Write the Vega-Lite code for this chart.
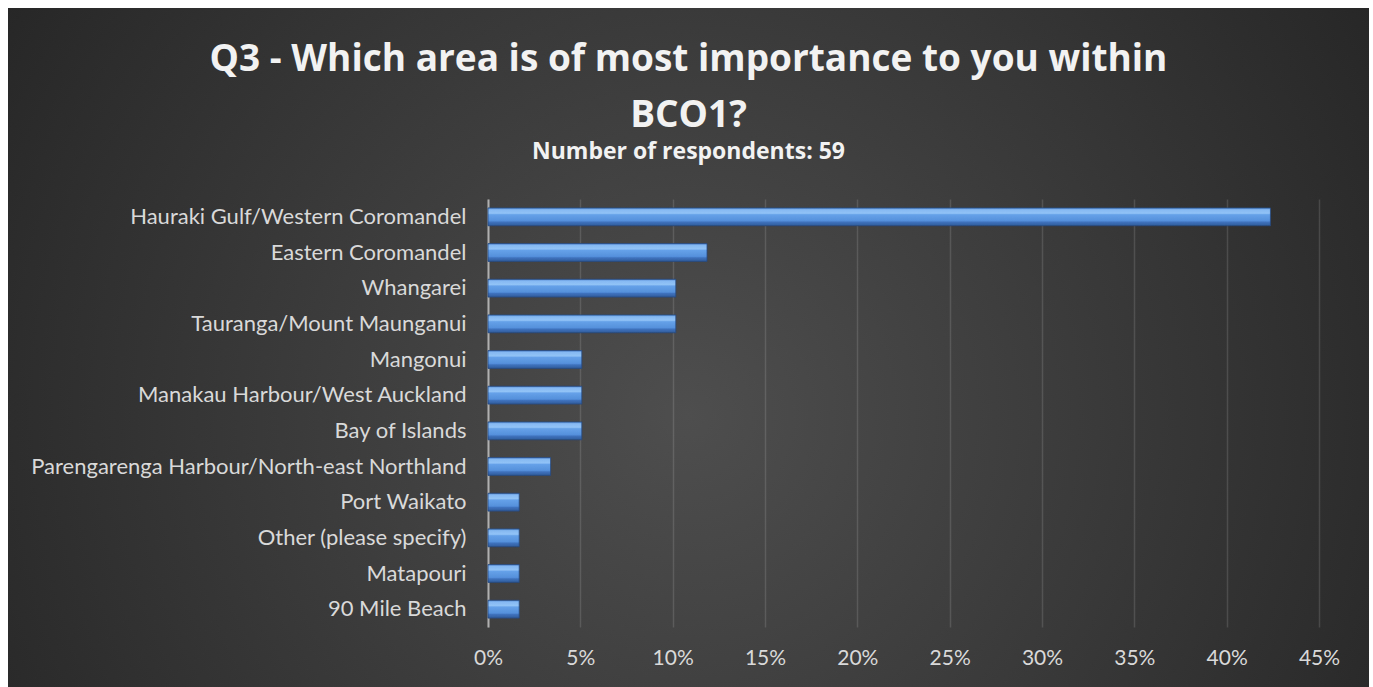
{
  "$schema": "https://vega.github.io/schema/vega-lite/v6.json",
  "width": 1361,
  "height": 679,
  "autosize": {"type": "none"},
  "padding": {"left": 8, "top": 8, "right": 4, "bottom": 0},
  "background": "#ffffff",
  "title": {
    "text": ["Q3 - Which area is of most importance to you within", "BCO1?"],
    "subtitle": "Number of respondents: 59",
    "anchor": "middle",
    "orient": "top",
    "offset": -157,
    "font": "Open Sans",
    "fontSize": 37,
    "fontWeight": "bold",
    "color": "#f2f2f2",
    "lineHeight": 56,
    "subtitleFont": "Open Sans",
    "subtitleFontSize": 23,
    "subtitleFontWeight": "bold",
    "subtitleColor": "#f2f2f2",
    "subtitlePadding": 6
  },
  "data": {
    "values": [
      {"area": "Hauraki Gulf/Western Coromandel", "pct": 0.4237},
      {"area": "Eastern Coromandel", "pct": 0.1186},
      {"area": "Whangarei", "pct": 0.1017},
      {"area": "Tauranga/Mount Maunganui", "pct": 0.1017},
      {"area": "Mangonui", "pct": 0.0508},
      {"area": "Manakau Harbour/West Auckland", "pct": 0.0508},
      {"area": "Bay of Islands", "pct": 0.0508},
      {"area": "Parengarenga Harbour/North-east Northland", "pct": 0.0339},
      {"area": "Port Waikato", "pct": 0.0169},
      {"area": "Other (please specify)", "pct": 0.0169},
      {"area": "Matapouri", "pct": 0.0169},
      {"area": "90 Mile Beach", "pct": 0.0169}
    ]
  },
  "mark": {
    "type": "bar",
    "stroke": "#274a80",
    "strokeWidth": 0.8,
    "color": {
      "gradient": "linear",
      "x1": 0, "y1": 0, "x2": 0, "y2": 1,
      "stops": [
        {"offset": 0, "color": "#4f86d2"},
        {"offset": 0.1, "color": "#86b9f2"},
        {"offset": 0.3, "color": "#92c3f7"},
        {"offset": 0.38, "color": "#65a1e8"},
        {"offset": 0.72, "color": "#5590dc"},
        {"offset": 0.8, "color": "#3f72bd"},
        {"offset": 1, "color": "#2f5b9a"}
      ]
    }
  },
  "encoding": {
    "y": {
      "field": "area",
      "type": "nominal",
      "sort": null,
      "title": null,
      "scale": {"range": [191, 619], "paddingInner": 0.5, "paddingOuter": 0.25},
      "axis": {
        "offset": -480,
        "ticks": false,
        "labelPadding": 22,
        "labelFont": "Lato",
        "labelFontSize": 22,
        "labelColor": "#d9d9d9",
        "labelLimit": 600,
        "domain": true,
        "domainColor": "#b0b0b0",
        "domainWidth": 2,
        "grid": false
      }
    },
    "x": {
      "field": "pct",
      "type": "quantitative",
      "title": null,
      "scale": {"domain": [0, 0.45], "range": [480, 1311], "nice": false},
      "axis": {
        "orient": "top",
        "offset": -679,
        "values": [0, 0.05, 0.1, 0.15, 0.2, 0.25, 0.3, 0.35, 0.4, 0.45],
        "format": ".0%",
        "ticks": false,
        "domain": false,
        "labelFlush": false,
        "labelPadding": 19,
        "labelFont": "Lato",
        "labelFontSize": 21,
        "labelColor": "#d9d9d9",
        "grid": true,
        "gridColor": "#ffffff",
        "gridOpacity": 0.13,
        "gridWidth": 1.5
      }
    }
  },
  "config": {
    "view": {
      "stroke": null,
      "fill": {
        "gradient": "radial",
        "x1": 0.5, "y1": 0.55, "r1": 0,
        "x2": 0.5, "y2": 0.55, "r2": 0.6,
        "stops": [
          {"offset": 0, "color": "#4e4e4e"},
          {"offset": 1, "color": "#262626"}
        ]
      }
    }
  }
}
